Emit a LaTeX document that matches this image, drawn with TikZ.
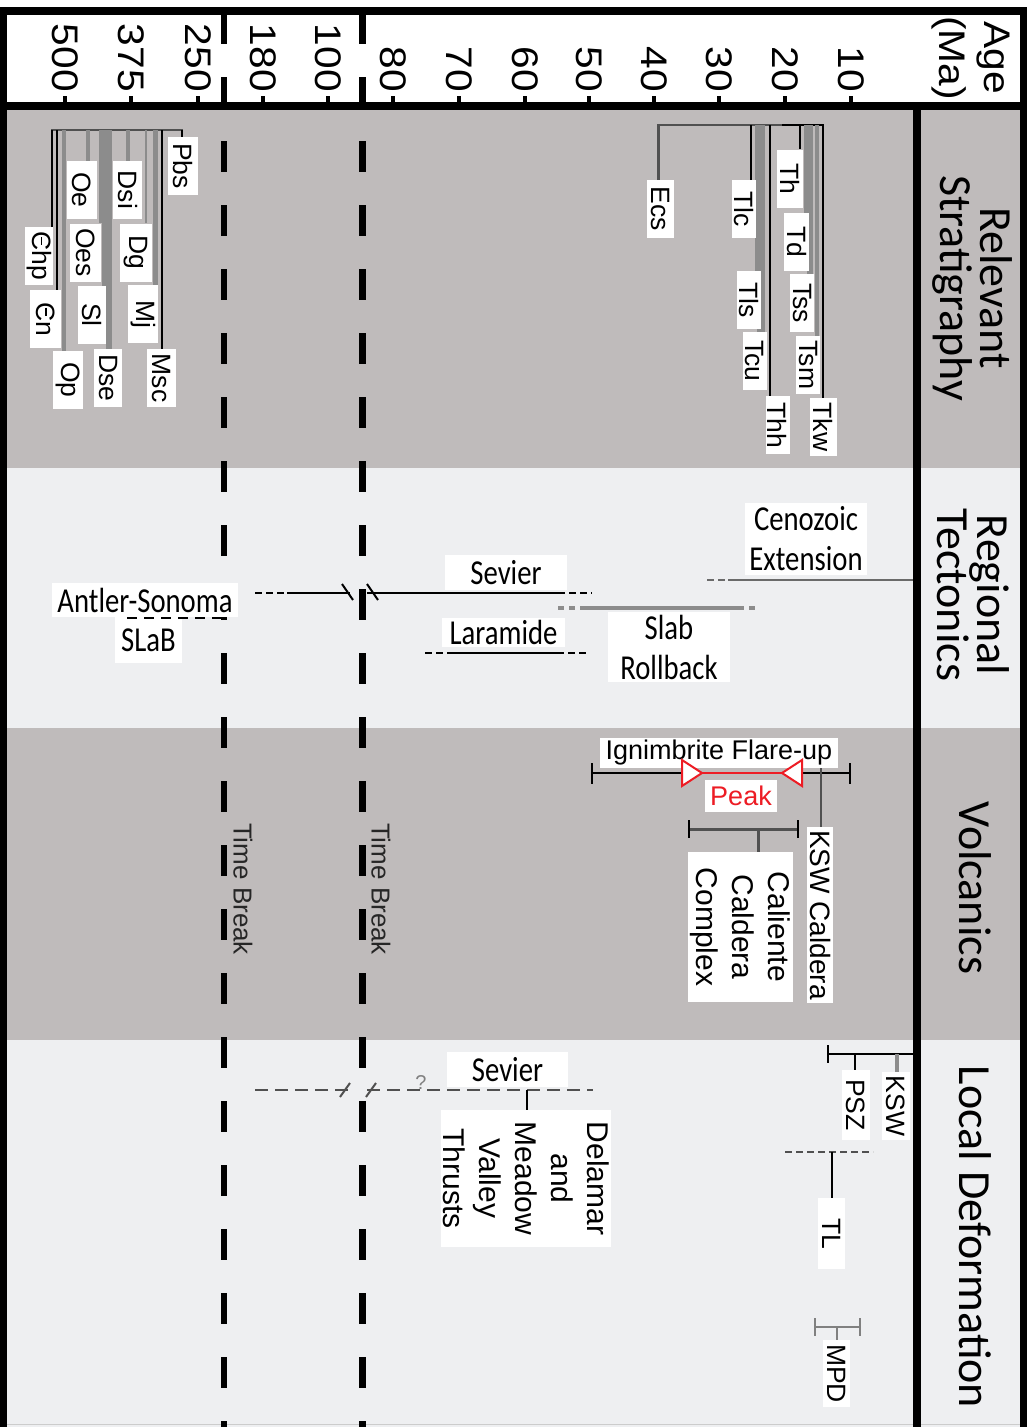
\documentclass[tikz,border=0pt]{standalone}
\usepackage{fontspec}
\setmainfont{Liberation Sans}
\newfontfamily\hdrfont{Carlito}
\newfontfamily\condfont[FakeStretch=0.82]{Carlito}
\newfontfamily\axfont[FakeStretch=1.1]{Liberation Sans}
\definecolor{bandgray}{RGB}{191,187,187}
\definecolor{bandlight}{RGB}{238,239,241}
\definecolor{lgray}{RGB}{140,140,140}
\definecolor{dgray}{RGB}{80,80,80}
\definecolor{peakred}{RGB}{237,28,36}
\newcommand\cambC{\ooalign{C\cr\hidewidth\rule[0.32em]{0.3em}{0.07em}\hidewidth\cr}}
\pgfdeclarelayer{back}
\pgfdeclarelayer{mid}
\pgfsetlayers{back,mid,main}
\begin{document}
\begin{tikzpicture}[x=1pt,y=-1pt,
  sbox/.style={rotate=-90,fill=white,inner sep=0pt,minimum width=58pt,minimum height=28pt,font=\fontsize{26.5}{28}\selectfont},
  vbox/.style={rotate=-90,fill=white,inner sep=0pt,align=center},
  hbox/.style={fill=white,inner sep=0pt,align=center,font=\condfont\fontsize{35}{40}\selectfont},
  hdr/.style={rotate=-90,inner sep=0pt,align=center,font=\hdrfont\fontsize{46}{40}\selectfont},
  axlab/.style={rotate=-90,anchor=east,inner sep=0pt,font=\axfont\fontsize{37}{44}\selectfont},
  axtick/.style={line width=3.5pt},
  blk/.style={draw=black,line width=2pt},
  dln/.style={draw=dgray,line width=2.5pt},
  tbreak/.style={line width=6.5pt,dash pattern=on 31pt off 33pt},
  sdash/.style={dash pattern=on 7pt off 4pt},
  bord/.style={line width=#1},
]
\useasboundingbox (0,0) rectangle (1035,1427);
\begin{pgfonlayer}{back}
  \fill[white] (0,0) rectangle (1035,1427);
  \fill[bandgray] (0,106) rectangle (1027,468);
  \fill[bandlight] (0,468) rectangle (1027,728);
  \fill[bandgray] (0,728) rectangle (1027,1040);
  \fill[bandlight] (0,1040) rectangle (1027,1427);
  \draw[draw=black!20,line width=1pt] (0,1424) -- (1027,1424);
  \draw[tbreak] (224,13) -- (224,1427);
  \draw[tbreak,line width=7pt] (362,13) -- (362,1427);
\end{pgfonlayer}

% ---------- axis ----------
\foreach \xx/\lab in {65/500,131/375,198/250,263/180,328/100,393/80,459/70,525/60,589/50,654/40,719/30,785/20,851/10}{
  \node[axlab] (ax\lab) at (\xx,92) {\lab};
  \draw[axtick] (\xx,96) -- (\xx,103);
}
\node[rotate=-90,inner sep=0pt,align=center,font=\axfont\fontsize{37}{45}\selectfont] (age) at (971,58) {Age\\(Ma)};

% ---------- headers ----------
\node[hdr] (hStrat) at (973,288) {Relevant\\Stratigraphy};
\node[hdr] (hTect) at (973,595) {Regional\\Tectonics};
\node[hdr] (hVolc) at (975,888) {Volcanics};
\node[hdr] (hLoc) at (975,1237) {Local Deformation};

% ---------- stratigraphy boxes ----------
\node[sbox,minimum height=30pt] (Pbs) at (183,166) {Pbs};
\node[sbox,minimum height=30pt] (Oe) at (82,190) {Oe};
\node[sbox,minimum height=29pt] (Dsi) at (127.5,190) {Dsi};
\node[sbox] (Chp) at (39,256) {\cambC hp};
\node[sbox,minimum height=31pt] (Oes) at (85.5,252.5) {Oes};
\node[sbox,minimum height=32pt] (Dg) at (136,252.5) {Dg};
\node[sbox,minimum height=31pt] (Cn) at (45.5,319) {\cambC n};
\node[sbox] (Sl) at (92,315) {Sl};
\node[sbox,minimum height=30pt] (Mj) at (143,314) {Mj};
\node[sbox,minimum height=30pt] (Op) at (68,380) {Op};
\node[sbox] (Dse) at (108,378) {Dse};
\node[sbox,minimum height=29pt] (Msc) at (161.5,378) {Msc};

\node[sbox,minimum height=27pt] (Ecs) at (660.5,209) {Ecs};
\node[sbox,minimum height=24pt] (Tlc) at (744,209) {Tlc};
\node[sbox,minimum height=24pt] (Tls) at (749,300) {Tls};
\node[sbox,minimum height=24pt] (Tcu) at (754.5,361) {Tcu};
\node[sbox,minimum height=24pt] (Thh) at (777.5,425) {Thh};
\node[sbox,minimum height=26pt] (Th) at (790,178.5) {Th};
\node[sbox,minimum height=25pt] (Td) at (796.5,242) {Td};
\node[sbox,minimum height=24pt] (Tss) at (802,303) {Tss};
\node[sbox,minimum height=24pt] (Tsm) at (808,365) {Tsm};
\node[sbox,minimum height=27pt] (Tkw) at (823.5,427) {Tkw};

% ---------- tectonics boxes ----------
\node[hbox,minimum width=186pt,minimum height=34pt] (antler) at (145,600) {Antler-Sonoma};
\node[hbox,minimum width=67pt,minimum height=46pt] (slabL) at (148.5,640) {SLaB};
\node[hbox,minimum width=122pt,minimum height=35pt] (sevT) at (506,572.5) {Sevier};
\node[hbox,minimum width=123pt,minimum height=29pt] (lara) at (503.5,632.5) {Laramide};
\node[hbox,minimum width=122pt,minimum height=70pt] (slabR) at (669,647) {Slab\\Rollback};
\node[hbox,minimum width=122pt,minimum height=72pt] (ceno) at (806,539) {Cenozoic\\Extension};

% ---------- volcanics boxes ----------
\node[fill=white,inner sep=0pt,minimum width=238pt,minimum height=30pt,font=\fontsize{27}{30}\selectfont] (flare) at (719,753) {Ignimbrite Flare-up};
\node[fill=white,inner sep=0pt,minimum width=72pt,minimum height=32pt,text=peakred,font=\fontsize{27}{30}\selectfont] (peak) at (741,796) {Peak};
\node[vbox,minimum width=176pt,minimum height=26pt,font=\fontsize{28}{32}\selectfont] (kswc) at (820,915) {KSW Caldera};
\node[vbox,minimum width=150pt,minimum height=105pt,font=\fontsize{30}{36}\selectfont] (cal) at (740.5,927) {Caliente\\Caldera\\Complex};

% ---------- local deformation boxes ----------
\node[hbox,minimum width=121pt,minimum height=35pt] (sevL) at (507.5,1069.5) {Sevier};
\node[vbox,minimum width=137pt,minimum height=170pt,font=\fontsize{30}{36}\selectfont] (dmv) at (526,1178.5) {Delamar\\and\\Meadow\\Valley\\Thrusts};
\node[sbox,minimum width=70pt] (psz) at (856,1105) {PSZ};
\node[sbox,minimum width=68pt] (ksw) at (896,1106) {KSW};
\node[sbox,minimum width=71pt,minimum height=27pt] (tl) at (831.5,1233.5) {TL};
\node[sbox,minimum width=67pt,minimum height=27pt] (mpd) at (836.5,1373.5) {MPD};

% ---------- time break labels ----------
\node[rotate=-90,inner sep=0pt,text=black!85,font=\fontsize{26}{30}\selectfont] (tb1) at (243,889) {Time Break};
\node[rotate=-90,inner sep=0pt,text=black!85,font=\fontsize{26}{30}\selectfont] (tb2) at (381,889) {Time Break};
\node[text=gray,inner sep=0pt,font=\fontsize{20}{20}\selectfont] (qm) at (421,1083) {?};

% ---------- connectors (behind boxes) ----------
\begin{pgfonlayer}{mid}
  % left stratigraphy group
  \draw[dln] (51,130) -- (183,130);
  \foreach \xx/\nd/\lw/\cl in {52/Chp/2/black,57/Cn/2/black,64/Op/4/lgray,88/Oe/4/lgray,101/Oes/4/lgray,104/Sl/4/lgray,109/Dse/6/lgray,128/Dsi/4/lgray,146/Dg/2/lgray,155/Mj/5/lgray,162/Msc/2/black,182/Pbs/2/black}{
    \coordinate (tmp) at (\xx,130);
    \draw[draw=\cl,line width=\lw pt] (tmp) -- (tmp |- \nd.west);
  }
  % right stratigraphy group
  \draw[draw=dgray,line width=2.5pt] (657,125) -- (782,125);
  \draw[blk] (782,125) -- (824,125);
  \foreach \xx/\nd/\lw/\cl in {658/Ecs/3/dgray,751/Tlc/2/black,757/Tls/4/lgray,761/Tcu/8/lgray,770/Thh/2/black,800/Th/2/black,805/Td/3/lgray,810/Tss/6/lgray,817/Tsm/4/lgray,823/Tkw/2/black}{
    \coordinate (tmp) at (\xx,125);
    \draw[draw=\cl,line width=\lw pt] (tmp) -- (tmp |- \nd.west);
  }
  % tectonics: Sevier / Antler-Sonoma
  \coordinate (sv0) at (255,593); \coordinate (sv1) at (287,593);
  \coordinate (sv2) at (350,593); \coordinate (sv3) at (367,593);
  \coordinate (sv4) at (558,593); \coordinate (sv5) at (592,593);
  \draw[blk,sdash] (sv0) -- (sv1);
  \draw[blk] (sv1) -- (sv2);
  \draw[blk] (sv3) -- (sv4);
  \draw[blk,sdash] (sv4) -- (sv5);
  \draw[blk] (342,584) -- (353,600);
  \draw[blk] (367,584) -- (378,600);
  % Laramide
  \coordinate (la0) at (425,653); \coordinate (la1) at (453,653);
  \coordinate (la2) at (557,653); \coordinate (la3) at (588,653);
  \draw[blk,line width=1.8pt,sdash] (la0) -- (la1);
  \draw[blk,line width=1.8pt] (la1) -- (la2);
  \draw[blk,line width=1.8pt,sdash] (la2) -- (la3);
  % Slab rollback
  \coordinate (sr0) at (558,608); \coordinate (sr1) at (582,608);
  \coordinate (sr2) at (738,608); \coordinate (sr3) at (756,608);
  \draw[draw=lgray,line width=4pt,dash pattern=on 6pt off 5pt] (sr0) -- (sr1);
  \draw[draw=lgray,line width=4pt] (sr1) -- (sr2);
  \draw[draw=lgray,line width=4pt,dash pattern=on 6pt off 5pt] (sr2) -- (sr3);
  % Cenozoic extension
  \coordinate (ce0) at (707,580); \coordinate (ce1) at (728,580); \coordinate (ce2) at (914,580);
  \draw[draw=dgray!85,line width=2pt,sdash] (ce0) -- (ce1);
  \draw[draw=dgray!85,line width=2pt] (ce1) -- (ce2);
  % volcanics
  \coordinate (fl0) at (592,773); \coordinate (fl1) at (850,773);
  \draw[blk] (fl0) -- (fl1);
  \draw[blk] (592,763) -- (592,784);
  \draw[blk] (850,763) -- (850,784);
  \coordinate (pk0) at (682,773); \coordinate (pk1) at (802,773);
  \draw[draw=peakred,line width=2pt] (pk0) -- (pk1);
  \coordinate (kc) at (821,766);
  \draw[dln] (kc) -- (kc |- kswc.west);
  \draw[draw=dgray,line width=3pt] (689,829) -- (798,829);
  \draw[blk,line width=2.5pt] (689,820) -- (689,838);
  \draw[blk,line width=2.5pt] (798,820) -- (798,838);
  \coordinate (cc) at (758,829);
  \draw[draw=dgray,line width=3pt] (cc) -- (cc |- cal.west);
  % local deformation: Sevier thrusts
  \draw[draw=dgray,line width=2pt,dash pattern=on 13pt off 7pt] (255,1090) -- (350,1090);
  \draw[draw=dgray,line width=2pt,dash pattern=on 13pt off 7pt] (367,1090) -- (593,1090);
  \draw[draw=dgray,line width=2pt] (340,1097) -- (350,1083);
  \draw[draw=dgray,line width=2pt] (366,1097) -- (376,1083);
  \coordinate (sc) at (527,1090);
  \draw[blk] (sc) -- (sc |- dmv.west);
  % KSW / PSZ
  \draw[blk] (828,1054) -- (914,1054);
  \draw[blk] (828,1045) -- (828,1063);
  \coordinate (pc) at (855,1054);
  \draw[blk] (pc) -- (pc |- psz.west);
  \coordinate (kc2) at (897,1054);
  \draw[draw=lgray,line width=4pt] (kc2) -- (kc2 |- ksw.west);
  % TL
  \draw[draw=dgray,line width=2pt,sdash] (785,1152) -- (873,1152);
  \coordinate (tc) at (832,1152);
  \draw[blk] (tc) -- (tc |- tl.west);
  % MPD
  \draw[draw=gray,line width=2.5pt] (815,1327) -- (860,1327);
  \draw[draw=gray,line width=2.5pt] (815,1318) -- (815,1336);
  \draw[draw=gray,line width=2.5pt] (860,1318) -- (860,1336);
  \coordinate (mc) at (837,1327);
  \draw[draw=gray,line width=2.5pt] (mc) -- (mc |- mpd.west);
\end{pgfonlayer}

% ---------- items over boxes ----------
\draw[blk,dash pattern=on 10pt off 7pt] (127,618) -- (227,618);
\filldraw[draw=peakred,fill=white,line width=2pt] (682,760) -- (702,773) -- (682,786) -- cycle;
\filldraw[draw=peakred,fill=white,line width=2pt] (802,760) -- (782,773) -- (802,786) -- cycle;

% ---------- frame ----------
\draw[bord=7pt] (3.5,7) -- (3.5,1427);
\draw[bord=8pt] (0,11) -- (1027,11);
\draw[bord=7pt] (1023.5,7) -- (1023.5,1427);
\draw[bord=8pt] (0,106) -- (1027,106);
\draw[bord=8pt] (917,106) -- (917,1427);
\end{tikzpicture}
\end{document}
